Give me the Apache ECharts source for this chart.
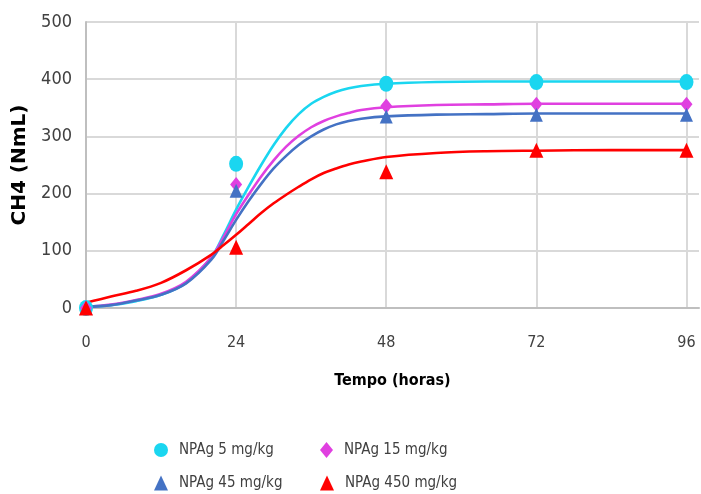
<!DOCTYPE html>
<html>
<head>
<meta charset="utf-8">
<script src="https://cdn.jsdelivr.net/npm/echarts@6/dist/echarts.min.js"></script>
<style>
  html, body { margin: 0; padding: 0; background: #fff; }
  #container { width: 701px; height: 494px; }
</style>
</head>
<body>
<div id="container"></div>
<script>
// measured points (hours)
const pointHours = [0, 24, 48, 72, 96];
const pts5 = [0, 252, 392, 395, 395];
const pts15 = [0, 216, 353, 356, 356];
const pts45 = [0, 205, 335, 338, 338];
const pts450 = [0, 106, 238, 276, 276];

// fitted curves
const curveHours = [0, 4, 8, 12, 16, 20, 22, 24, 26, 28, 30, 32, 34, 36, 38, 40, 42, 44, 48, 56, 64, 72, 84, 96];
const fit5 = [2, 5, 12, 23, 44, 88, 128, 172, 212, 250, 285, 315, 339, 357, 369, 378, 384, 388, 392, 395, 396, 396, 396, 396];
const fit15 = [2, 6, 14, 25, 46, 88, 124, 164, 198, 230, 258, 282, 301, 316, 327, 335, 341, 346, 351, 355, 356, 357, 357, 357];
const fit45 = [2, 5, 13, 23, 43, 84, 118, 154, 187, 217, 244, 266, 285, 300, 312, 321, 327, 331, 335, 338, 339, 340, 340, 340];
const fit450 = [9, 20, 30, 44, 66, 93, 110, 128, 147, 166, 183, 198, 212, 225, 236, 244, 251, 256, 264, 271, 274, 275, 276, 276];

const xTicks = [0, 24, 48, 72, 96];

const names = ["NPAg 5 mg/kg", "NPAg 15 mg/kg", "NPAg 45 mg/kg", "NPAg 450 mg/kg"];
const colors = ["#1ad6f0", "#e040e0", "#4472c4", "#ff0000"];

const narrow = "'DejaVu Sans Condensed', 'Liberation Sans', sans-serif";

function pairs(xs, ys) {
  return xs.map((x, i) => [x, ys[i]]);
}

const dom = document.getElementById("container");
const myChart = echarts.init(dom, null, { renderer: "canvas" });

const fits = [fit5, fit15, fit45, fit450];
const points = [pts5, pts15, pts45, pts450];
const symbols = ["circle", "diamond", "triangle", "triangle"];
const symbolSizes = [[14, 16], [12, 15], [13, 14], [14, 15]];

const lineSeries = fits.map((f, i) => ({
  name: names[i] + " ajuste",
  type: "line",
  data: pairs(curveHours, f),
  smooth: 0.35,
  showSymbol: false,
  lineStyle: { color: colors[i], width: 2.6 },
  itemStyle: { color: colors[i] },
  z: 2,
}));

const scatterSeries = points.map((p, i) => ({
  name: names[i],
  type: "scatter",
  data: pairs(pointHours, p),
  symbol: symbols[i],
  symbolSize: symbolSizes[i],
  itemStyle: { color: colors[i], opacity: 1 },
  clip: false,
  z: 3,
}));

const legendText = { fontFamily: narrow, fontSize: 15, color: "#404040", lineHeight: 20, padding: [0, 0, 0, 6] };
// one legend per entry so they sit in two aligned columns
const legendSpots = [[149, 435], [315, 435], [149, 468], [315, 468]];
const legendIcons = ["circle", "diamond", "triangle", "triangle"];
const legendSizes = [[14, 16], [13, 16], [14, 15], [14, 15]];

const option = {
  animation: false,
  grid: { left: 86, right: 2, top: 22, bottom: 186 },
  legend: names.map((n, i) => ({
    left: legendSpots[i][0],
    top: legendSpots[i][1],
    itemWidth: legendSizes[i][0],
    itemHeight: legendSizes[i][1],
    textStyle: legendText,
    data: [{ name: n, icon: legendIcons[i] }],
  })),
  xAxis: {
    type: "value",
    min: 0,
    max: 98,
    interval: 24,
    name: "Tempo (horas)",
    nameLocation: "middle",
    nameGap: 65,
    nameTextStyle: { fontFamily: narrow, fontSize: 16, fontWeight: "bold", color: "#000" },
    axisLine: { show: true, lineStyle: { color: "#bfbfbf", width: 2 } },
    axisTick: { show: false },
    axisLabel: {
      fontFamily: narrow,
      fontSize: 16,
      color: "#404040",
      margin: 27,
      showMaxLabel: false,
      formatter: (v) => (xTicks.includes(v) ? String(v) : ""),
    },
    splitLine: { show: true, showMaxLine: false, lineStyle: { color: "#d9d9d9", width: 2 } },
  },
  yAxis: {
    type: "value",
    min: 0,
    max: 500,
    interval: 100,
    name: "CH4 (NmL)",
    nameLocation: "middle",
    nameGap: 54,
    nameTextStyle: { fontFamily: "'DejaVu Sans', sans-serif", fontSize: 20, fontWeight: "bold", color: "#000" },
    axisLine: { show: true, lineStyle: { color: "#bfbfbf", width: 2 } },
    axisTick: { show: false },
    axisLabel: { fontFamily: narrow, fontSize: 18, color: "#404040", margin: 14 },
    splitLine: { show: true, lineStyle: { color: "#d9d9d9", width: 2 } },
  },
  series: [...lineSeries, ...scatterSeries],
};

myChart.setOption(option);
window.addEventListener("resize", myChart.resize);
</script>
</body>
</html>
